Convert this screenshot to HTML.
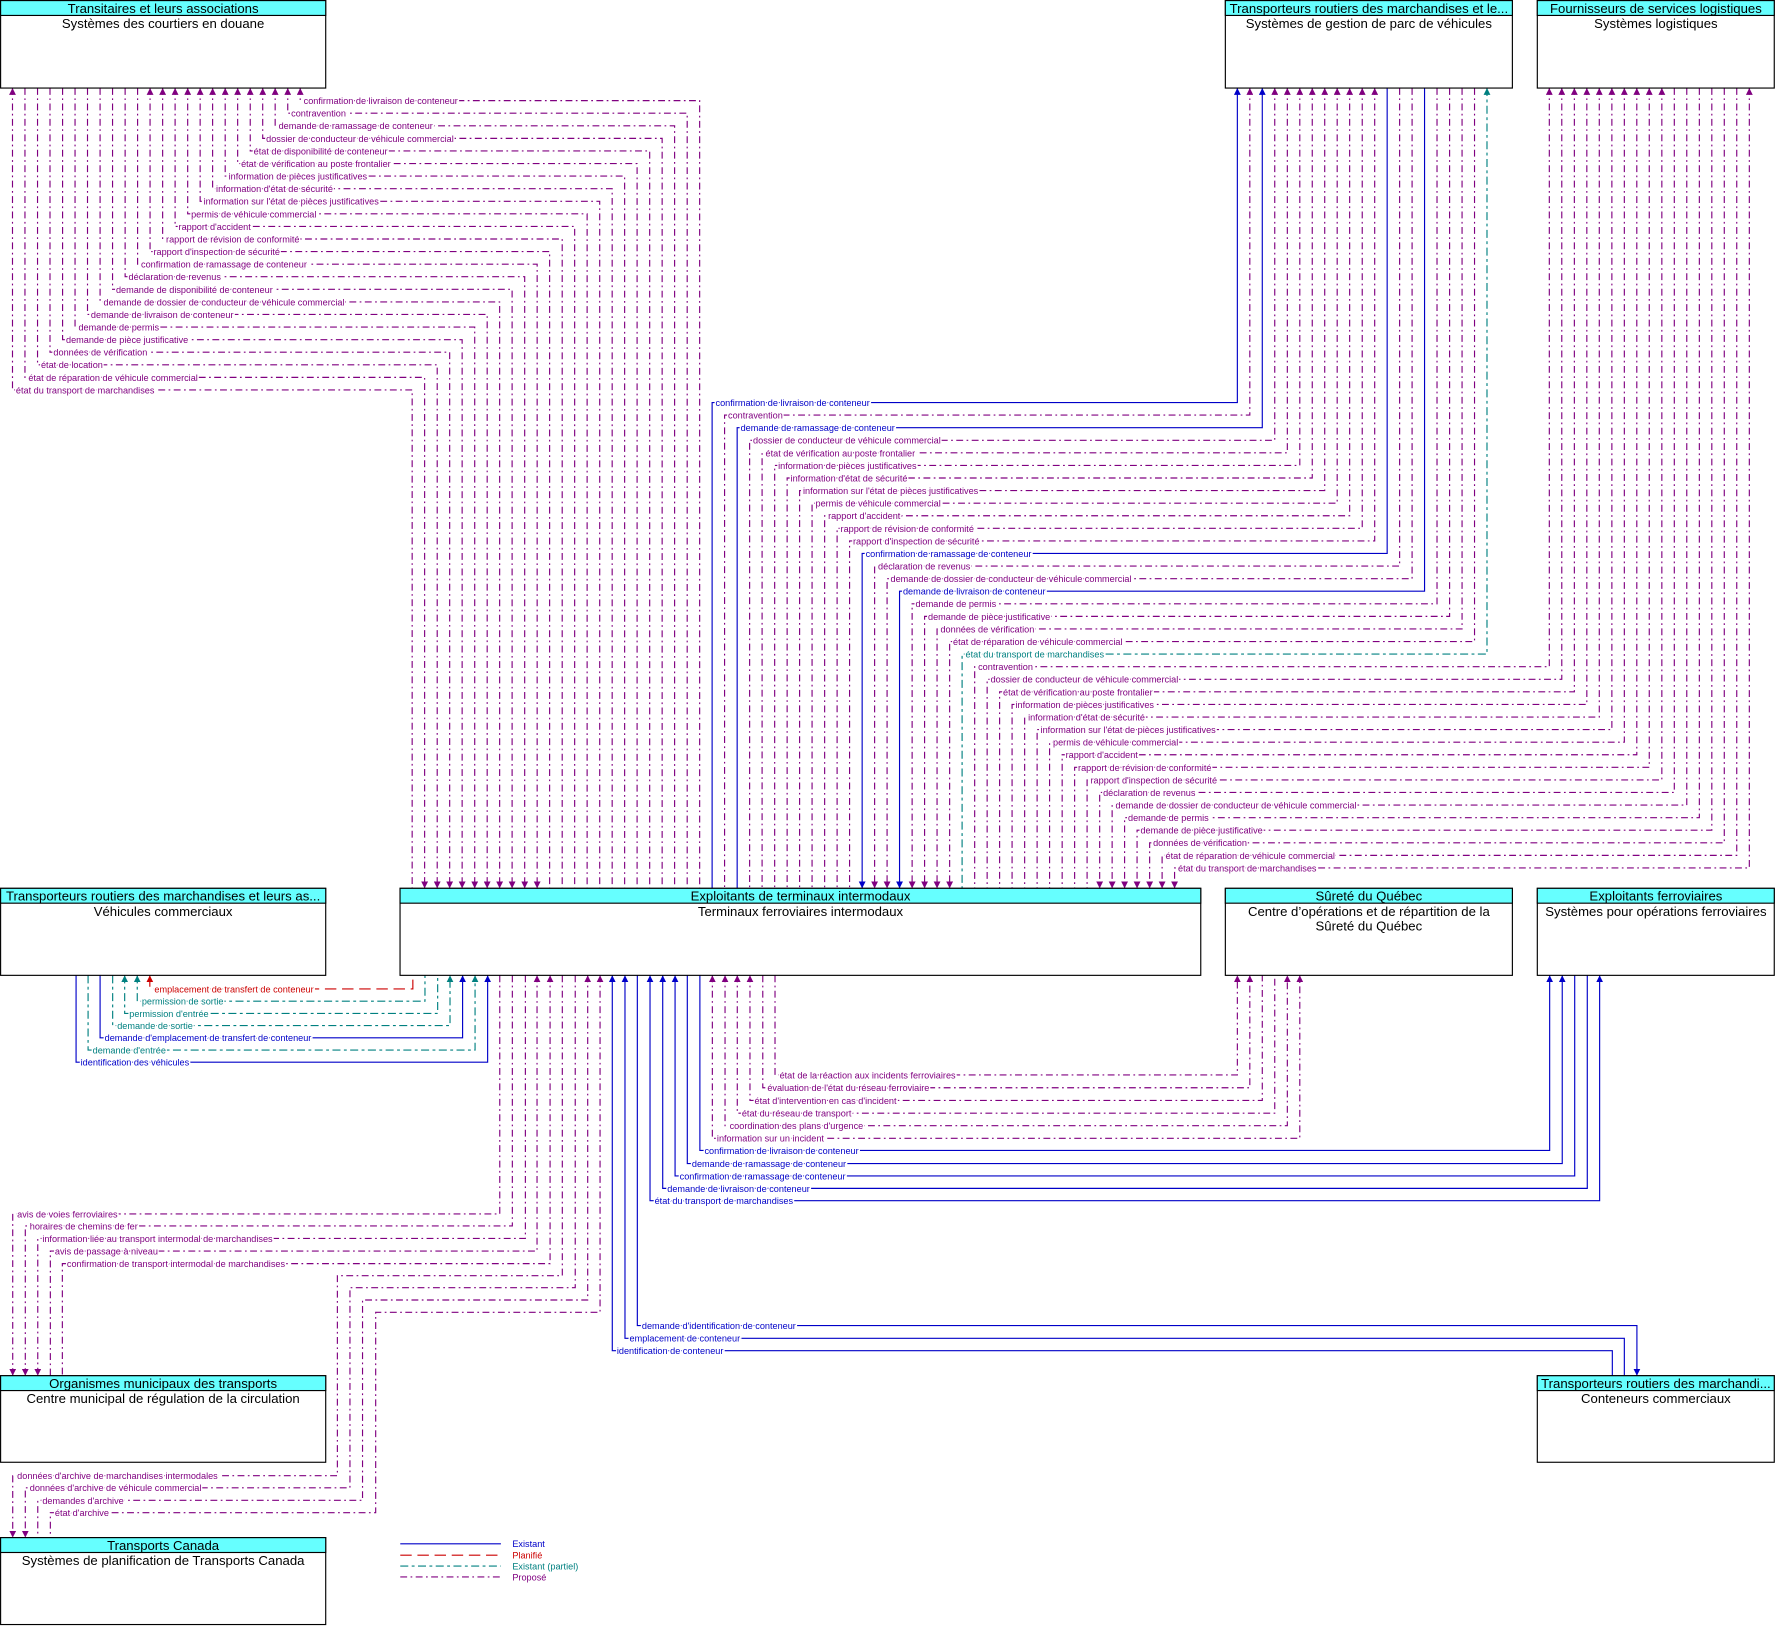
<!DOCTYPE html>
<html><head><meta charset="utf-8"><style>
html,body{margin:0;padding:0;background:#fff}
svg{display:block}
.p{stroke:#800080;stroke-dasharray:6 3 1.5 3;fill:none;stroke-width:1}
.b{stroke:#0000C8;fill:none;stroke-width:1}
.t{stroke:#008080;stroke-dasharray:7 3 2.5 3;fill:none;stroke-width:1}
.r{stroke:#CC0000;stroke-dasharray:10 5;fill:none;stroke-width:1}
text{font-family:"Liberation Sans",sans-serif}
.l{font-size:8px;paint-order:stroke;stroke:#fff;stroke-width:2.5px}
.lp{fill:#800080}.lb{fill:#0000C8}.lt{fill:#008080}.lr{fill:#CC0000}
.h{font-size:11.5px;fill:#000;text-anchor:middle}
.bx{fill:#fff;stroke:#000;stroke-width:1}
.hd{fill:#66FFFF;stroke:#000;stroke-width:1}
</style></head><body>
<svg width="1784" height="1637" viewBox="0 0 1560 1431.5" xmlns="http://www.w3.org/2000/svg">
<defs>
<marker id="mp" viewBox="0 0 10 10" refX="10" refY="5" markerWidth="6" markerHeight="6" markerUnits="userSpaceOnUse" orient="auto-start-reverse"><path d="M0,0L10,5L0,10z" fill="#800080"/></marker>
<marker id="mb" viewBox="0 0 10 10" refX="10" refY="5" markerWidth="6" markerHeight="6" markerUnits="userSpaceOnUse" orient="auto-start-reverse"><path d="M0,0L10,5L0,10z" fill="#0000C8"/></marker>
<marker id="mt" viewBox="0 0 10 10" refX="10" refY="5" markerWidth="6" markerHeight="6" markerUnits="userSpaceOnUse" orient="auto-start-reverse"><path d="M0,0L10,5L0,10z" fill="#008080"/></marker>
<marker id="mr" viewBox="0 0 10 10" refX="10" refY="5" markerWidth="6" markerHeight="6" markerUnits="userSpaceOnUse" orient="auto-start-reverse"><path d="M0,0L10,5L0,10z" fill="#CC0000"/></marker>
</defs>

<!-- Group 1: Transitaires <-> Terminal -->
<g class="p">
<path d="M10.9 77V341H360.4V776.8" marker-start="url(#mp)"/>
<path d="M21.8 77V330H371.3V776.8" marker-end="url(#mp)"/>
<path d="M32.8 77V319H382.3V776.8" marker-end="url(#mp)"/>
<path d="M43.7 77V308H393.2V776.8" marker-end="url(#mp)"/>
<path d="M54.7 77V297H404.1V776.8" marker-end="url(#mp)"/>
<path d="M65.6 77V286H415.1V776.8" marker-end="url(#mp)"/>
<path d="M76.5 77V275H426V776.8" marker-end="url(#mp)"/>
<path d="M87.5 77V264H436.9V776.8" marker-end="url(#mp)"/>
<path d="M98.4 77V253H447.8V776.8" marker-end="url(#mp)"/>
<path d="M109.4 77V242H458.8V776.8" marker-end="url(#mp)"/>
<path d="M120.3 77V231H469.7V776.8" marker-end="url(#mp)"/>
<path d="M131.2 77V220H480.6V776.8" marker-start="url(#mp)"/>
<path d="M142.2 77V209H491.6V776.8" marker-start="url(#mp)"/>
<path d="M153.1 77V198H502.5V776.8" marker-start="url(#mp)"/>
<path d="M164.1 77V187H513.4V776.8" marker-start="url(#mp)"/>
<path d="M175 77V176H524.4V776.8" marker-start="url(#mp)"/>
<path d="M185.9 77V165H535.3V776.8" marker-start="url(#mp)"/>
<path d="M196.9 77V154H546.2V776.8" marker-start="url(#mp)"/>
<path d="M207.8 77V143H557.1V776.8" marker-start="url(#mp)"/>
<path d="M218.8 77V132H568.1V776.8" marker-start="url(#mp)"/>
<path d="M229.7 77V121H579V776.8" marker-start="url(#mp)"/>
<path d="M240.6 77V110H589.9V776.8" marker-start="url(#mp)"/>
<path d="M251.6 77V99H600.9V776.8" marker-start="url(#mp)"/>
<path d="M262.5 77V88H611.8V776.8" marker-start="url(#mp)"/>
</g>
<g class="l lp">
<text x="13.9" y="344">état du transport de marchandises</text>
<text x="24.8" y="333">état de réparation de véhicule commercial</text>
<text x="35.8" y="322">état de location</text>
<text x="46.7" y="311">données de vérification</text>
<text x="57.7" y="300">demande de pièce justificative</text>
<text x="68.6" y="289">demande de permis</text>
<text x="79.5" y="278">demande de livraison de conteneur</text>
<text x="90.5" y="267">demande de dossier de conducteur de véhicule commercial</text>
<text x="101.4" y="256">demande de disponibilité de conteneur</text>
<text x="112.4" y="245">déclaration de revenus</text>
<text x="123.3" y="234">confirmation de ramassage de conteneur</text>
<text x="134.2" y="223">rapport d'inspection de sécurité</text>
<text x="145.2" y="212">rapport de révision de conformité</text>
<text x="156.1" y="201">rapport d'accident</text>
<text x="167.1" y="190">permis de véhicule commercial</text>
<text x="178" y="179">information sur l'état de pièces justificatives</text>
<text x="188.9" y="168">information d'état de sécurité</text>
<text x="199.9" y="157">information de pièces justificatives</text>
<text x="210.8" y="146">état de vérification au poste frontalier</text>
<text x="221.8" y="135">état de disponibilité de conteneur</text>
<text x="232.7" y="124">dossier de conducteur de véhicule commercial</text>
<text x="243.6" y="113">demande de ramassage de conteneur</text>
<text x="254.6" y="102">contravention</text>
<text x="265.5" y="91">confirmation de livraison de conteneur</text>
</g>

<!-- Group 2: Parc <-> Terminal -->
<path class="b" d="M1082 77V352H622.7V776.8" marker-start="url(#mb)"/>
<path class="p" d="M1092.9 77V363H633.6V776.8" marker-start="url(#mp)"/>
<path class="b" d="M1103.8 77V374H644.6V776.8" marker-start="url(#mb)"/>
<path class="p" d="M1114.7 77V385H655.5V776.8" marker-start="url(#mp)"/>
<path class="p" d="M1125.7 77V396H666.4V776.8" marker-start="url(#mp)"/>
<path class="p" d="M1136.6 77V407H677.4V776.8" marker-start="url(#mp)"/>
<path class="p" d="M1147.5 77V418H688.3V776.8" marker-start="url(#mp)"/>
<path class="p" d="M1158.4 77V429H699.2V776.8" marker-start="url(#mp)"/>
<path class="p" d="M1169.3 77V440H710.1V776.8" marker-start="url(#mp)"/>
<path class="p" d="M1180.2 77V451H721.1V776.8" marker-start="url(#mp)"/>
<path class="p" d="M1191.2 77V462H732V776.8" marker-start="url(#mp)"/>
<path class="p" d="M1202.1 77V473H742.9V776.8" marker-start="url(#mp)"/>
<path class="b" d="M1213 77V484H753.9V776.8" marker-end="url(#mb)"/>
<path class="p" d="M1223.9 77V495H764.8V776.8" marker-end="url(#mp)"/>
<path class="p" d="M1234.8 77V506H775.7V776.8" marker-end="url(#mp)"/>
<path class="b" d="M1245.7 77V517H786.6V776.8" marker-end="url(#mb)"/>
<path class="p" d="M1256.6 77V528H797.6V776.8" marker-end="url(#mp)"/>
<path class="p" d="M1267.6 77V539H808.5V776.8" marker-end="url(#mp)"/>
<path class="p" d="M1278.5 77V550H819.4V776.8" marker-end="url(#mp)"/>
<path class="p" d="M1289.4 77V561H830.4V776.8" marker-end="url(#mp)"/>
<path class="t" d="M1300.3 77V572H841.3V776.8" marker-start="url(#mt)"/>
<g class="l">
<text class="lb" x="625.7" y="355">confirmation de livraison de conteneur</text>
<text class="lp" x="636.6" y="366">contravention</text>
<text class="lb" x="647.6" y="377">demande de ramassage de conteneur</text>
<text class="lp" x="658.5" y="388">dossier de conducteur de véhicule commercial</text>
<text class="lp" x="669.4" y="399">état de vérification au poste frontalier</text>
<text class="lp" x="680.4" y="410">information de pièces justificatives</text>
<text class="lp" x="691.3" y="421">information d'état de sécurité</text>
<text class="lp" x="702.2" y="432">information sur l'état de pièces justificatives</text>
<text class="lp" x="713.1" y="443">permis de véhicule commercial</text>
<text class="lp" x="724.1" y="454">rapport d'accident</text>
<text class="lp" x="735" y="465">rapport de révision de conformité</text>
<text class="lp" x="745.9" y="476">rapport d'inspection de sécurité</text>
<text class="lb" x="756.9" y="487">confirmation de ramassage de conteneur</text>
<text class="lp" x="767.8" y="498">déclaration de revenus</text>
<text class="lp" x="778.7" y="509">demande de dossier de conducteur de véhicule commercial</text>
<text class="lb" x="789.6" y="520">demande de livraison de conteneur</text>
<text class="lp" x="800.6" y="531">demande de permis</text>
<text class="lp" x="811.5" y="542">demande de pièce justificative</text>
<text class="lp" x="822.4" y="553">données de vérification</text>
<text class="lp" x="833.4" y="564">état de réparation de véhicule commercial</text>
<text class="lt" x="844.3" y="575">état du transport de marchandises</text>
</g>

<!-- Group 3: Logistique <-> Terminal -->
<g class="p">
<path d="M1354.8 77V583H852.3V776.8" marker-start="url(#mp)"/>
<path d="M1365.7 77V594H863.2V776.8" marker-start="url(#mp)"/>
<path d="M1376.7 77V605H874.1V776.8" marker-start="url(#mp)"/>
<path d="M1387.6 77V616H885V776.8" marker-start="url(#mp)"/>
<path d="M1398.5 77V627H896V776.8" marker-start="url(#mp)"/>
<path d="M1409.5 77V638H906.9V776.8" marker-start="url(#mp)"/>
<path d="M1420.4 77V649H917.8V776.8" marker-start="url(#mp)"/>
<path d="M1431.3 77V660H928.8V776.8" marker-start="url(#mp)"/>
<path d="M1442.2 77V671H939.7V776.8" marker-start="url(#mp)"/>
<path d="M1453.2 77V682H950.6V776.8" marker-start="url(#mp)"/>
<path d="M1464.1 77V693H961.6V776.8" marker-end="url(#mp)"/>
<path d="M1475 77V704H972.5V776.8" marker-end="url(#mp)"/>
<path d="M1486 77V715H983.4V776.8" marker-end="url(#mp)"/>
<path d="M1496.9 77V726H994.3V776.8" marker-end="url(#mp)"/>
<path d="M1507.8 77V737H1005.3V776.8" marker-end="url(#mp)"/>
<path d="M1518.7 77V748H1016.2V776.8" marker-end="url(#mp)"/>
<path d="M1529.7 77V759H1027.1V776.8" marker-start="url(#mp)" marker-end="url(#mp)"/>
</g>
<g class="l lp">
<text x="855.3" y="586">contravention</text>
<text x="866.2" y="597">dossier de conducteur de véhicule commercial</text>
<text x="877.1" y="608">état de vérification au poste frontalier</text>
<text x="888" y="619">information de pièces justificatives</text>
<text x="899" y="630">information d'état de sécurité</text>
<text x="909.9" y="641">information sur l'état de pièces justificatives</text>
<text x="920.8" y="652">permis de véhicule commercial</text>
<text x="931.8" y="663">rapport d'accident</text>
<text x="942.7" y="674">rapport de révision de conformité</text>
<text x="953.6" y="685">rapport d'inspection de sécurité</text>
<text x="964.6" y="696">déclaration de revenus</text>
<text x="975.5" y="707">demande de dossier de conducteur de véhicule commercial</text>
<text x="986.4" y="718">demande de permis</text>
<text x="997.3" y="729">demande de pièce justificative</text>
<text x="1008.3" y="740">données de vérification</text>
<text x="1019.2" y="751">état de réparation de véhicule commercial</text>
<text x="1030.1" y="762">état du transport de marchandises</text>
</g>

<!-- Vehicles <-> Terminal -->
<path class="r" d="M131 852.9V864.8H361V852.9" marker-start="url(#mr)"/>
<path class="t" d="M120 852.9V875.5H371.6V852.9" marker-start="url(#mt)"/>
<path class="t" d="M109 852.9V886.2H382.7V852.9" marker-start="url(#mt)"/>
<path class="t" d="M98.5 852.9V896.8H393.5V852.9" marker-end="url(#mt)"/>
<path class="b" d="M87.5 852.9V907.5H404.5V852.9" marker-end="url(#mb)"/>
<path class="t" d="M77 852.9V918.2H415.4V852.9" marker-end="url(#mt)"/>
<path class="b" d="M66.5 852.9V928.8H426.4V852.9" marker-end="url(#mb)"/>
<g class="l">
<text class="lr" x="135" y="867.8">emplacement de transfert de conteneur</text>
<text class="lt" x="124" y="878.5">permission de sortie</text>
<text class="lt" x="113" y="889.2">permission d'entrée</text>
<text class="lt" x="102.5" y="899.8">demande de sortie</text>
<text class="lb" x="91.5" y="910.5">demande d'emplacement de transfert de conteneur</text>
<text class="lt" x="81" y="921.2">demande d'entrée</text>
<text class="lb" x="70.5" y="931.8">identification des véhicules</text>
</g>

<!-- Sûreté <-> Terminal -->
<g class="p">
<path d="M677.7 852.9V940H1082V852.9" marker-end="url(#mp)"/>
<path d="M667 852.9V951.2H1092.9V852.9" marker-end="url(#mp)"/>
<path d="M655.8 852.9V962.3H1103.8V852.9" marker-start="url(#mp)"/>
<path d="M644.7 852.9V973.4H1114.7V852.9" marker-start="url(#mp)"/>
<path d="M634 852.9V984.4H1125.7V852.9" marker-start="url(#mp)" marker-end="url(#mp)"/>
<path d="M622.9 852.9V995.4H1136.6V852.9" marker-start="url(#mp)" marker-end="url(#mp)"/>
</g>
<g class="l lp">
<text x="681.7" y="943">état de la réaction aux incidents ferroviaires</text>
<text x="671" y="954.2">évaluation de l'état du réseau ferroviaire</text>
<text x="659.8" y="965.3">état d'intervention en cas d'incident</text>
<text x="648.7" y="976.4">état du réseau de transport</text>
<text x="638" y="987.4">coordination des plans d'urgence</text>
<text x="626.9" y="998.4">information sur un incident</text>
</g>

<!-- Ferroviaire <-> Terminal -->
<g class="b">
<path d="M612 852.9V1006H1355.1V852.9" marker-end="url(#mb)"/>
<path d="M601 852.9V1017.5H1366.1V852.9" marker-end="url(#mb)"/>
<path d="M590.3 852.9V1028.3H1377V852.9" marker-start="url(#mb)"/>
<path d="M579.5 852.9V1039.2H1388V852.9" marker-start="url(#mb)"/>
<path d="M568.4 852.9V1050H1398.8V852.9" marker-start="url(#mb)" marker-end="url(#mb)"/>
</g>
<g class="l lb">
<text x="616" y="1009">confirmation de livraison de conteneur</text>
<text x="605" y="1020.5">demande de ramassage de conteneur</text>
<text x="594.3" y="1031.3">confirmation de ramassage de conteneur</text>
<text x="583.5" y="1042.2">demande de livraison de conteneur</text>
<text x="572.4" y="1053">état du transport de marchandises</text>
</g>

<!-- Conteneurs <-> Terminal -->
<g class="b">
<path d="M557.3 852.9V1159.2H1431.4V1203" marker-end="url(#mb)"/>
<path d="M546.5 852.9V1170.3H1420.4V1203" marker-start="url(#mb)"/>
<path d="M535.4 852.9V1181.1H1409.9V1203" marker-start="url(#mb)"/>
</g>
<g class="l lb">
<text x="561.3" y="1162.2">demande d'identification de conteneur</text>
<text x="550.5" y="1173.3">emplacement de conteneur</text>
<text x="539.4" y="1184.1">identification de conteneur</text>
</g>

<!-- Municipal <-> Terminal -->
<g class="p">
<path d="M437 852.9V1061.5H11.1V1203" marker-end="url(#mp)"/>
<path d="M448 852.9V1072H22.1V1203" marker-end="url(#mp)"/>
<path d="M459.4 852.9V1083H33V1203" marker-end="url(#mp)"/>
<path d="M469.6 852.9V1094H44V1203" marker-start="url(#mp)"/>
<path d="M481 852.9V1105H54.5V1203" marker-start="url(#mp)"/>
</g>
<g class="l lp">
<text x="15" y="1064.5">avis de voies ferroviaires</text>
<text x="26" y="1075">horaires de chemins de fer</text>
<text x="37" y="1086">information liée au transport intermodal de marchandises</text>
<text x="48" y="1097">avis de passage à niveau</text>
<text x="58.5" y="1108">confirmation de transport intermodal de marchandises</text>
</g>

<!-- Canada <-> Terminal -->
<g class="p">
<path d="M491.7 852.9V1115.5H295V1290.4H11.1V1344.6" marker-end="url(#mp)"/>
<path d="M503 852.9V1126H306V1301H22.1V1344.6" marker-end="url(#mp)"/>
<path d="M513.9 852.9V1136.8H317V1312H33V1344.6" marker-start="url(#mp)"/>
<path d="M524.7 852.9V1147.6H328.5V1322.8H44V1344.6" marker-start="url(#mp)"/>
</g>
<g class="l lp">
<text x="15" y="1293.4">données d'archive de marchandises intermodales</text>
<text x="26" y="1304">données d'archive de véhicule commercial</text>
<text x="37" y="1315">demandes d'archive</text>
<text x="48" y="1325.8">état d'archive</text>
</g>

<!-- Boxes -->
<rect class="bx" x="0.5" y="0.5" width="284.3" height="76.5"/><rect class="hd" x="0.5" y="0.5" width="284.3" height="13"/>
<text class="h" x="142.6" y="11.3">Transitaires et leurs associations</text><text class="h" x="142.6" y="24.5">Systèmes des courtiers en douane</text>

<rect class="bx" x="1071.5" y="0.5" width="251" height="76.5"/><rect class="hd" x="1071.5" y="0.5" width="251" height="13"/>
<text class="h" x="1197" y="11.3">Transporteurs routiers des marchandises et le...</text><text class="h" x="1197" y="24.5">Systèmes de gestion de parc de véhicules</text>

<rect class="bx" x="1344.3" y="0.5" width="207.2" height="76.5"/><rect class="hd" x="1344.3" y="0.5" width="207.2" height="13"/>
<text class="h" x="1448" y="11.3">Fournisseurs de services logistiques</text><text class="h" x="1448" y="24.5">Systèmes logistiques</text>

<rect class="bx" x="0.5" y="776.8" width="284.3" height="76.1"/><rect class="hd" x="0.5" y="776.8" width="284.3" height="13"/>
<text class="h" x="142.6" y="787.6">Transporteurs routiers des marchandises et leurs as...</text><text class="h" x="142.6" y="800.8">Véhicules commerciaux</text>

<rect class="bx" x="349.8" y="776.8" width="700.2" height="76.1"/><rect class="hd" x="349.8" y="776.8" width="700.2" height="13"/>
<text class="h" x="700" y="787.6">Exploitants de terminaux intermodaux</text><text class="h" x="700" y="800.8">Terminaux ferroviaires intermodaux</text>

<rect class="bx" x="1071.5" y="776.8" width="251" height="76.1"/><rect class="hd" x="1071.5" y="776.8" width="251" height="13"/>
<text class="h" x="1197" y="787.6">Sûreté du Québec</text><text class="h" x="1197" y="800.8">Centre d’opérations et de répartition de la</text><text class="h" x="1197" y="813.5">Sûreté du Québec</text>

<rect class="bx" x="1344.3" y="776.8" width="207.2" height="76.1"/><rect class="hd" x="1344.3" y="776.8" width="207.2" height="13"/>
<text class="h" x="1448" y="787.6">Exploitants ferroviaires</text><text class="h" x="1448" y="800.8">Systèmes pour opérations ferroviaires</text>

<rect class="bx" x="0.5" y="1203" width="284.3" height="75.7"/><rect class="hd" x="0.5" y="1203" width="284.3" height="13"/>
<text class="h" x="142.6" y="1213.8">Organismes municipaux des transports</text><text class="h" x="142.6" y="1227">Centre municipal de régulation de la circulation</text>

<rect class="bx" x="1344.3" y="1203" width="207.2" height="75.7"/><rect class="hd" x="1344.3" y="1203" width="207.2" height="13"/>
<text class="h" x="1448" y="1213.8">Transporteurs routiers des marchandi...</text><text class="h" x="1448" y="1227">Conteneurs commerciaux</text>

<rect class="bx" x="0.5" y="1344.6" width="284.3" height="76"/><rect class="hd" x="0.5" y="1344.6" width="284.3" height="13"/>
<text class="h" x="142.6" y="1355.4">Transports Canada</text><text class="h" x="142.6" y="1368.6">Systèmes de planification de Transports Canada</text>

<!-- Legend -->
<path class="b" d="M350 1350H438"/>
<path class="r" d="M350 1360H438"/>
<path class="t" d="M350 1369.5H438"/>
<path class="p" d="M350 1379H438"/>
<g style="font-size:8px">
<text class="lb" x="448" y="1353">Existant</text>
<text class="lr" x="448" y="1363">Planifié</text>
<text class="lt" x="448" y="1372.5">Existant (partiel)</text>
<text class="lp" x="448" y="1382">Proposé</text>
</g>
</svg>
</body></html>
